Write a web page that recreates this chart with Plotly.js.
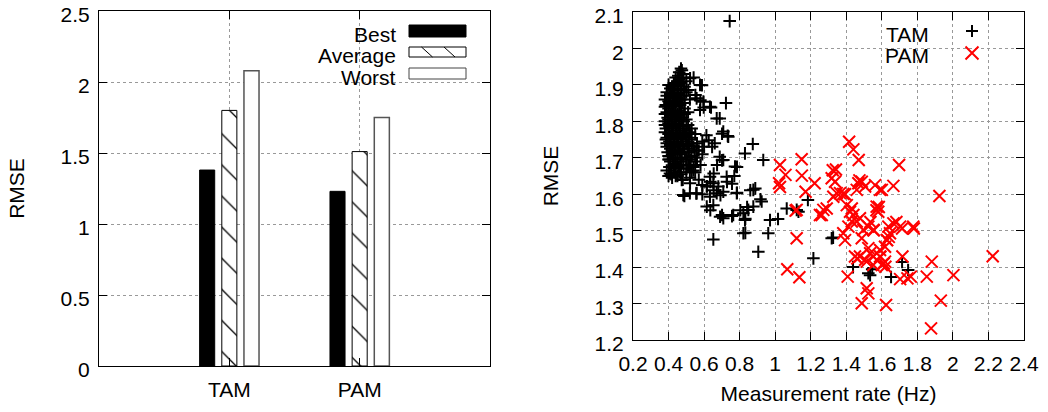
<!DOCTYPE html>
<html>
<head>
<meta charset="utf-8">
<script src="https://cdn.plot.ly/plotly-3.0.1.min.js"></script>
<style>html,body{margin:0;padding:0;background:#fff;}#chart{width:1048px;height:412px;}</style>
</head>
<body>
<div id="chart"></div>
<script>
// ---------- data: bar chart ----------
const categories = ['TAM', 'PAM'];
const bestRmse = [1.38, 1.23];
const averageRmse = [1.80, 1.51];
const worstRmse = [2.08, 1.75];
const barYTicks = [0, 0.5, 1, 1.5, 2, 2.5];
const barYTickText = ['0', '0.5', '1', '1.5', '2', '2.5'];
const barSeriesNames = ['Best', 'Average', 'Worst'];

// ---------- data: scatter chart ----------
const tamRate = [
  0.47,0.46,0.48,
  0.44,0.46,0.48,0.50,
  0.40,0.42,0.45,0.47,0.49,
  0.39,0.41,0.43,0.45,0.47,0.50,
  0.38,0.40,0.42,0.44,0.46,0.48,0.52,
  0.38,0.40,0.42,0.44,0.46,0.49,0.51,
  0.38,0.395,0.415,0.435,0.455,0.475,0.50,
  0.38,0.40,0.42,0.44,0.46,0.48,0.51,0.53,
  0.38,0.40,0.42,0.44,0.46,0.49,0.52,0.55,
  0.385,0.405,0.43,0.45,0.47,0.50,0.53,0.56,0.59,
  0.39,0.41,0.435,0.46,0.48,0.51,0.54,0.57,0.60,
  0.40,0.42,0.45,0.47,0.50,0.53,0.56,0.59,
  0.41,0.44,0.47,0.52,0.55,0.58,
  0.39,0.43,0.46,0.50,0.54,
  0.40,0.42,0.45,0.48,0.52,
  0.455,0.475,0.43,0.45,0.47,0.41,0.435,0.455,0.485,0.39,0.41,0.43,0.45,0.47,0.49,
  0.385,0.405,0.425,0.445,0.465,0.49,0.39,0.41,0.43,0.45,0.47,0.49,0.38,0.40,0.42,0.44,
  0.46,0.485,0.385,0.405,0.425,0.445,0.465,0.485,0.50,0.39,0.41,0.43,0.45,0.475,0.495,0.515,
  0.39,0.41,0.43,0.455,0.48,0.505,0.53,0.395,0.42,0.44,0.465,0.49,0.515,0.545,0.40,0.425,
  0.45,0.475,0.50,0.525,0.555,0.405,0.43,0.455,0.485,0.51,0.54,0.415,0.44,0.47,0.50,0.53,
  0.395,0.42,0.45,0.48,0.405,0.435,0.465,
  0.744,
  0.521,0.541,0.577,0.588,0.511,0.551,0.558,0.579,0.596,0.723,0.633,0.639,0.598,0.577,0.671,0.688,
  0.613,0.626,0.708,0.736,0.701,0.733,0.645,0.66,0.874,0.830,0.933,0.688,0.708,0.701,0.673,0.774,
  0.785,0.770,0.727,0.729,0.757,0.654,0.633,0.652,0.680,0.635,0.616,0.59,0.57,0.55,0.408,0.44,
  0.474,0.521,0.483,0.489,0.52,0.558,0.556,0.590,0.615,0.633,0.671,0.654,0.692,0.708,0.784,0.785,
  0.860,0.877,0.888,0.917,0.924,0.877,0.615,0.652,0.635,0.690,0.708,0.701,0.757,0.764,0.804,0.821,
  0.842,0.849,0.830,0.832,0.821,0.832,0.652,0.905,0.961,0.971,1.016,1.065,1.121,1.131,1.184,1.215,
  1.318,1.326,1.438,1.524,1.534,1.546,1.652,1.714,1.748
];
const tamRmse = [
  1.945,1.935,1.93,
  1.92,1.915,1.92,1.91,
  1.90,1.895,1.90,1.89,1.895,
  1.88,1.875,1.885,1.875,1.87,1.88,
  1.86,1.855,1.865,1.85,1.86,1.85,1.86,
  1.84,1.835,1.83,1.84,1.83,1.835,1.825,
  1.82,1.81,1.815,1.805,1.815,1.81,1.805,
  1.79,1.795,1.785,1.795,1.79,1.785,1.79,1.78,
  1.77,1.765,1.775,1.765,1.77,1.765,1.77,1.765,
  1.75,1.745,1.75,1.74,1.75,1.745,1.75,1.74,1.745,
  1.73,1.725,1.73,1.72,1.73,1.725,1.73,1.72,1.73,
  1.705,1.71,1.70,1.71,1.70,1.705,1.70,1.71,
  1.69,1.685,1.69,1.68,1.69,1.68,
  1.665,1.67,1.66,1.67,1.665,
  1.65,1.645,1.65,1.64,1.645,
  1.925,1.94,1.905,1.91,1.905,1.89,1.88,1.885,1.885,1.87,1.865,1.87,1.865,1.86,1.87,
  1.845,1.85,1.845,1.855,1.845,1.85,1.825,1.82,1.825,1.82,1.825,1.82,1.80,1.805,1.80,1.81,
  1.80,1.80,1.78,1.785,1.78,1.78,1.78,1.775,1.775,1.755,1.76,1.755,1.76,1.755,1.76,1.755,
  1.74,1.735,1.74,1.735,1.74,1.735,1.74,1.715,1.72,1.715,1.715,1.715,1.715,1.72,1.695,1.70,
  1.695,1.70,1.695,1.695,1.72,1.675,1.68,1.675,1.68,1.68,1.675,1.655,1.66,1.655,1.66,1.66,
  1.79,1.765,1.745,1.725,1.695,1.72,1.68,
  2.075,
  1.918,1.92,1.900,1.899,1.886,1.872,1.863,1.858,1.854,1.850,1.840,1.838,1.838,1.831,1.808,1.808,
  1.762,1.748,1.772,1.758,1.766,1.760,1.730,1.74,1.738,1.712,1.694,1.703,1.694,1.693,1.680,1.676,
  1.675,1.650,1.648,1.634,1.629,1.657,1.648,1.630,1.621,1.634,1.622,1.625,1.64,1.66,1.657,1.65,
  1.639,1.630,1.598,1.595,1.603,1.603,1.602,1.60,1.621,1.593,1.603,1.611,1.597,1.607,1.603,1.604,
  1.611,1.612,1.616,1.586,1.580,1.566,1.566,1.570,1.556,1.538,1.534,1.543,1.540,1.543,1.556,1.548,
  1.565,1.557,1.529,1.533,1.493,1.494,1.476,1.442,1.493,1.529,1.532,1.561,1.557,1.552,1.584,1.424,
  1.479,1.481,1.400,1.383,1.378,1.394,1.373,1.414,1.392
];
const pamRate = [
  1.416,1.440,1.470,1.697,1.027,1.149,1.058,1.150,1.022,1.027,1.222,1.171,1.324,1.342,1.318,1.474,
  1.487,1.459,1.562,1.590,1.600,1.665,1.506,1.924,1.346,1.365,1.383,1.393,1.327,1.403,1.431,1.290,
  1.262,1.121,1.115,1.121,1.440,1.477,1.571,1.580,1.412,1.524,1.552,1.496,1.393,1.487,1.637,1.665,
  1.703,1.777,1.646,1.628,1.449,1.477,1.506,1.534,1.552,1.590,1.618,1.600,1.716,1.881,2.224,1.408,
  1.703,1.744,1.763,1.853,2.003,1.515,1.524,1.487,1.624,1.932,1.877,1.068,1.136,1.552,1.515,1.618,
  1.590,1.524,1.383,1.431,1.459,1.421,1.252,1.271,1.337,1.468,1.462,1.592,1.611,1.620,1.583,1.570,
  1.555,1.536,1.630,1.639,1.682,1.714,1.780
];
const pamRmse = [
  1.744,1.723,1.694,1.680,1.680,1.696,1.653,1.651,1.630,1.620,1.630,1.607,1.666,1.668,1.644,1.638,
  1.634,1.612,1.625,1.612,1.612,1.623,1.621,1.595,1.603,1.603,1.601,1.600,1.593,1.570,1.561,1.561,
  1.543,1.557,1.555,1.479,1.543,1.534,1.566,1.552,1.511,1.511,1.502,1.502,1.474,1.479,1.511,1.520,
  1.511,1.511,1.493,1.474,1.429,1.429,1.420,1.438,1.429,1.429,1.415,1.406,1.429,1.415,1.430,1.374,
  1.367,1.369,1.374,1.374,1.378,1.342,1.328,1.301,1.296,1.308,1.232,1.394,1.372,1.406,1.415,1.456,
  1.447,1.452,1.493,1.525,1.525,1.552,1.543,1.557,1.634,1.630,1.424,1.428,1.410,1.401,1.565,1.556,
  1.501,1.524,1.474,1.483,1.524,1.506,1.506
];
const scatterXTicks = [0.2,0.4,0.6,0.8,1,1.2,1.4,1.6,1.8,2,2.2,2.4];
const scatterXTickText = ['0.2','0.4','0.6','0.8','1','1.2','1.4','1.6','1.8','2','2.2','2.4'];
const scatterYTicks = [1.2,1.3,1.4,1.5,1.6,1.7,1.8,1.9,2,2.1];
const scatterYTickText = ['1.2','1.3','1.4','1.5','1.6','1.7','1.8','1.9','2','2.1'];
const scatterSeriesNames = ['TAM', 'PAM'];

// ---------- rendering ----------
const W = 1048, H = 412;
const px = v => v / W;
const py = v => 1 - v / H;
const FONT = 'Liberation Sans, Arial, Helvetica, sans-serif';
const GRID = '#999999';

const traces = [
  { type: 'bar', name: barSeriesNames[0], x: categories, y: bestRmse, xaxis: 'x', yaxis: 'y',
    marker: { color: '#000', line: { color: '#000', width: 1 } } },
  { type: 'bar', name: barSeriesNames[1], x: categories, y: averageRmse, xaxis: 'x', yaxis: 'y',
    marker: { color: '#fff', line: { color: '#000', width: 1 },
      pattern: { shape: '\\', size: 22, solidity: 0.06, fgcolor: '#000', bgcolor: '#fff' } } },
  { type: 'bar', name: barSeriesNames[2], x: categories, y: worstRmse, xaxis: 'x', yaxis: 'y',
    marker: { color: '#fff', line: { color: '#555', width: 1.5 } } },
  { type: 'scatter', mode: 'markers', name: scatterSeriesNames[0], x: tamRate, y: tamRmse, xaxis: 'x2', yaxis: 'y2',
    marker: { symbol: 'cross-thin-open', size: 9, color: '#000', line: { color: '#000', width: 2 } } },
  { type: 'scatter', mode: 'markers', name: scatterSeriesNames[1], x: pamRate, y: pamRmse, xaxis: 'x2', yaxis: 'y2',
    marker: { symbol: 'x-thin-open', size: 12, color: '#ff0000', line: { color: '#ff0000', width: 2 } } }
];

const axisCommon = {
  showline: true, linecolor: '#000', linewidth: 1, mirror: 'allticks',
  ticks: 'inside', ticklen: 8, tickcolor: '#000', tickwidth: 1,
  showgrid: true, gridcolor: GRID, gridwidth: 1, griddash: 'dot',
  zeroline: false, ticklabeloverflow: 'allow',
  tickfont: { family: FONT, size: 21, color: '#000' }
};

const shapes = [];
const annotations = [];
function rect(x0, y0, x1, y1, fill, line, layer) {
  shapes.push({ type: 'rect', xref: 'paper', yref: 'paper', x0: px(x0), x1: px(x1), y0: py(y1), y1: py(y0),
    fillcolor: fill, line: line, layer: layer || 'above' });
}
function seg(coords, color, width) {
  let d = '';
  for (let i = 0; i < coords.length; i += 4) {
    d += 'M' + px(coords[i]) + ',' + py(coords[i+1]) + 'L' + px(coords[i+2]) + ',' + py(coords[i+3]);
  }
  shapes.push({ type: 'path', xref: 'paper', yref: 'paper', path: d, line: { color: color, width: width }, layer: 'above' });
}
function label(text, x, y) {
  annotations.push({ text: text, xref: 'paper', yref: 'paper', x: px(x), y: py(y), xanchor: 'right', yanchor: 'middle',
    showarrow: false, font: { family: FONT, size: 21, color: '#000' } });
}
// left key
rect(312, 14, 478, 87, '#fff', { width: 0 }, 'between');
rect(409, 25, 466, 37, '#000', { color: '#000', width: 1 });
rect(409, 47, 466, 57, '#fff', { color: '#000', width: 1 });
seg([421.5, 47, 432.5, 57, 444, 47, 455, 57], '#000', 1);
rect(409, 68, 466, 79, '#fff', { color: '#444', width: 1 });
label(barSeriesNames[0], 398, 35);
label(barSeriesNames[1], 398, 56);
label(barSeriesNames[2], 398, 77);
// right key
rect(884, 18, 990, 68, '#fff', { width: 0 }, 'between');
seg([966, 31, 978, 31, 972, 25, 972, 37], '#000', 2);
seg([965.5, 46.5, 978.5, 59.5, 965.5, 59.5, 978.5, 46.5], '#ff0000', 2);
label(scatterSeriesNames[0], 931, 35);
label(scatterSeriesNames[1], 931, 56);

const layout = {
  width: W, height: H,
  margin: { l: 0, r: 0, t: 0, b: 0 },
  paper_bgcolor: '#fff', plot_bgcolor: '#fff',
  showlegend: false,
  font: { family: FONT, size: 21, color: '#000' },
  barmode: 'group', bargap: 0.49, bargroupgap: 0.32,
  xaxis: Object.assign({}, axisCommon, {
    domain: [px(99), px(490)], anchor: 'y', type: 'category', range: [-1, 2],
    ticklabelstandoff: 5
  }),
  yaxis: Object.assign({}, axisCommon, {
    domain: [py(366), py(11)], anchor: 'x', range: [0, 2.5],
    tickvals: barYTicks, ticktext: barYTickText, ticklabelstandoff: 4, ticklabelshift: 4,
    title: { text: 'RMSE', standoff: 30, font: { family: FONT, size: 21, color: '#000' } }
  }),
  xaxis2: Object.assign({}, axisCommon, {
    domain: [px(633), px(1024)], anchor: 'y2', range: [0.2, 2.4],
    tickvals: scatterXTicks, ticktext: scatterXTickText, ticklabelstandoff: 5,
    title: { text: 'Measurement rate (Hz)', standoff: 12, font: { family: FONT, size: 21, color: '#000' } }
  }),
  yaxis2: Object.assign({}, axisCommon, {
    domain: [py(340), py(12)], anchor: 'x2', range: [1.2, 2.1],
    tickvals: scatterYTicks, ticktext: scatterYTickText, ticklabelstandoff: 4, ticklabelshift: 4,
    title: { text: 'RMSE', standoff: 30, font: { family: FONT, size: 21, color: '#000' } }
  }),
  shapes: shapes,
  annotations: annotations
};

Plotly.newPlot('chart', traces, layout, { staticPlot: true, displayModeBar: false });
</script>
</body>
</html>
